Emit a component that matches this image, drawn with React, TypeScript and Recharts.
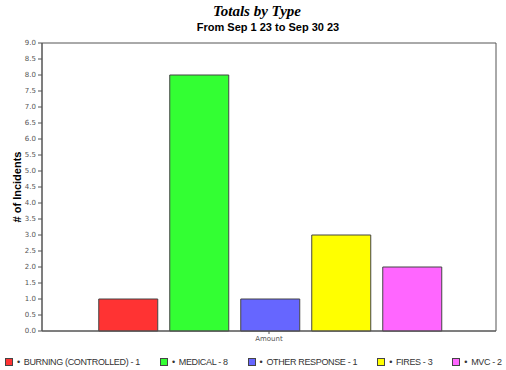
import React from 'react'
import { BarChart, Bar, XAxis, YAxis, ReferenceArea } from 'recharts'

const category = 'Amount'
const seriesNames = ['BURNING (CONTROLLED)', 'MEDICAL', 'OTHER RESPONSE', 'FIRES', 'MVC']
const seriesValues = [1, 8, 1, 3, 2]
const seriesColors = ['#ff3333', '#33ff33', '#6666ff', '#ffff00', '#ff66ff']
const yTicks = [0, 0.5, 1, 1.5, 2, 2.5, 3, 3.5, 4, 4.5, 5, 5.5, 6, 6.5, 7, 7.5, 8, 8.5, 9]

const row: Record<string, string | number> = { name: category }
seriesNames.forEach((s, i) => { row[s] = seriesValues[i] })
const data = [row]

const axisColor = '#555'
const tickStyle = { fill: '#555', fontSize: 7, fontFamily: 'Tahoma, "DejaVu Sans", sans-serif' }

function YLabel(props: any) {
  const { viewBox } = props
  const cy = viewBox.y + viewBox.height / 2
  return (
    <text x={21} y={cy} transform={`rotate(-90 21 ${cy})`} textAnchor="middle"
      style={{ fontSize: 11, fontWeight: 'bold', fontFamily: '"Liberation Sans", Arial, sans-serif', fill: '#000' }}>
      # of Incidents
    </text>
  )
}

export default function App() {
  return (
    <div style={{ position: 'absolute', left: 0, top: 0, width: 506, height: 370, background: '#fff', overflow: 'hidden', fontFamily: '"Liberation Sans", Arial, sans-serif' }}>
      <div style={{ position: 'absolute', left: 0, top: 3, width: 514, textAlign: 'center', fontFamily: '"Liberation Serif", "Times New Roman", serif', fontStyle: 'italic', fontWeight: 'bold', fontSize: 15 }}>
        Totals by Type
      </div>
      <div style={{ position: 'absolute', left: 0, top: 21, width: 536, textAlign: 'center', fontWeight: 'bold', fontSize: 11 }}>
        From Sep 1 23 to Sep 30 23
      </div>
      <BarChart width={506} height={370} data={data}
        margin={{ top: 43, right: 10, bottom: 9, left: 0 }}
        barCategoryGap="12.5%" barGap={12}>
        <ReferenceArea y1={0} y2={9} fill="none" stroke={axisColor} strokeWidth={1} />
        <XAxis dataKey="name" height={30} tick={tickStyle} tickSize={3} stroke={axisColor} tickLine={{ stroke: axisColor }} />
        <YAxis domain={[0, 9]} ticks={yTicks} interval={0} width={42} tick={tickStyle} tickSize={4}
          stroke={axisColor} tickFormatter={(v: number) => v.toFixed(1)} label={<YLabel />} />
        {seriesNames.map((s, i) => (
          <Bar key={s} dataKey={s} fill={seriesColors[i]} stroke="#444" strokeWidth={1} isAnimationActive={false} />
        ))}
      </BarChart>
      {/* legend row sits below the plot */}
      <div style={{ position: 'absolute', left: 5, top: 357, display: 'flex', whiteSpace: 'nowrap', fontSize: 9, letterSpacing: -0.35, color: '#333' }}>
        {seriesNames.map((s, i) => (
          <div key={s} style={{ display: 'flex', alignItems: 'center', marginRight: 20 }}>
            <span style={{ width: 6, height: 6, background: seriesColors[i], border: '1px solid #444', display: 'inline-block' }} />
            <span style={{ margin: '0 4px 0 4px' }}>•</span>
            <span>{s} - {seriesValues[i]}</span>
          </div>
        ))}
      </div>
    </div>
  )
}
